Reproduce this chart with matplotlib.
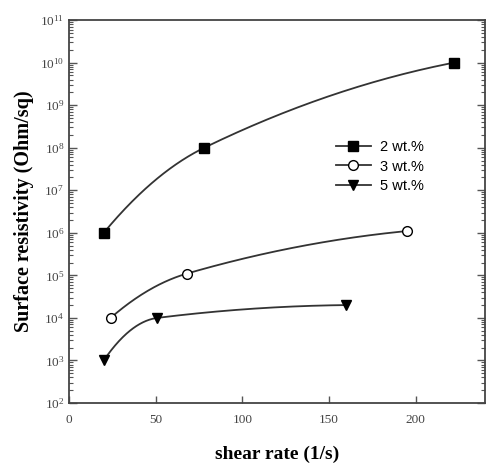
import numpy as np
import matplotlib
matplotlib.use("Agg")
import matplotlib.pyplot as plt
from matplotlib.ticker import LogLocator, NullFormatter, FixedLocator

# data
shear_2wt = [20, 78, 222]
res_2wt = [1e6, 1e8, 1e10]
shear_3wt = [24, 68, 195]
res_3wt = [1e4, 1.1e5, 1.1e6]
shear_5wt = [20, 51, 160]
res_5wt = [1e3, 1e4, 2e4]
labels = ["2 wt.%", "3 wt.%", "5 wt.%"]
x_ticks = [0, 50, 100, 150, 200]


def smooth_curve(x, y, n=100):
    """Concave-looking Hermite curve through the points (log y)"""
    x = np.asarray(x, float)
    y = np.asarray(y, float)
    sec = np.diff(y) / np.diff(x)
    m = np.zeros(len(x))
    for i in range(1, len(x) - 1):
        if sec[i - 1] * sec[i] > 0:
            m[i] = 2 / (1 / sec[i - 1] + 1 / sec[i])
    m[0] = 2 * sec[0] - m[1]
    m[-1] = max(2 * sec[-1] - m[-2], 0)
    xs_all, ys_all = [], []
    for i in range(len(x) - 1):
        h = x[i + 1] - x[i]
        t = np.linspace(0, 1, n)
        h00 = 2 * t ** 3 - 3 * t ** 2 + 1
        h10 = t ** 3 - 2 * t ** 2 + t
        h01 = -2 * t ** 3 + 3 * t ** 2
        h11 = t ** 3 - t ** 2
        xs_all.append(x[i] + t * h)
        ys_all.append(h00 * y[i] + h10 * h * m[i] + h01 * y[i + 1] + h11 * h * m[i + 1])
    return np.concatenate(xs_all), np.concatenate(ys_all)


fig = plt.figure(figsize=(4.97, 4.68), dpi=100)
ax = fig.add_axes([0.139, 0.139, 0.837, 0.818])

series = [
    (shear_2wt, res_2wt, dict(marker="s", mfc="black", mec="black")),
    (shear_3wt, res_3wt, dict(marker="o", mfc="white", mec="black")),
    (shear_5wt, res_5wt, dict(marker="v", mfc="black", mec="black")),
]
line_col = "#333333"
for (x, y, style), lab in zip(series, labels):
    xs, ys = smooth_curve(x, np.log10(y))
    ax.plot(xs, 10 ** ys, color=line_col, lw=1.3, zorder=2)
    ax.plot(x, y, ls="none", ms=7, mew=1.0, zorder=3, **style)
    # legend proxy
    ax.plot([], [], color=line_col, lw=1.3, ms=7, mew=1.0, label=lab, **style)

ax.set_yscale("log")
ax.set_xlim(0, 240)
ax.set_ylim(1e2, 1e11)
ax.xaxis.set_major_locator(FixedLocator(x_ticks))
ax.yaxis.set_major_locator(LogLocator(base=10, numticks=20))
ax.yaxis.set_minor_locator(LogLocator(base=10, subs=np.arange(2, 10), numticks=20))
ax.yaxis.set_minor_formatter(NullFormatter())

ax.tick_params(axis="both", which="both", direction="in", labelsize=9.5,
               labelfontfamily="Liberation Serif", colors="#555555",
               labelcolor="#444444")
ax.tick_params(axis="y", which="both", right=True)
ax.tick_params(axis="y", which="major", length=6, width=1)
ax.tick_params(axis="y", which="minor", length=3, width=0.8)
ax.tick_params(axis="x", which="major", length=5, width=1, pad=8)
for sp in ax.spines.values():
    sp.set_color("#444444")
    sp.set_linewidth(1.3)

ax.set_xlabel("shear rate (1/s)", fontsize=14, fontweight="bold",
              family="Liberation Serif", labelpad=14)
ax.set_ylabel("Surface resistivity (Ohm/sq)", fontsize=14.5, fontweight="bold",
              family="Liberation Serif", labelpad=4)

leg = ax.legend(loc="upper left", bbox_to_anchor=(0.61, 0.72), frameon=False,
                prop={"family": "Liberation Sans", "size": 10.5},
                handlelength=2.4, handletextpad=0.6, labelspacing=0.35)

fig.savefig("out.png", dpi=100)
